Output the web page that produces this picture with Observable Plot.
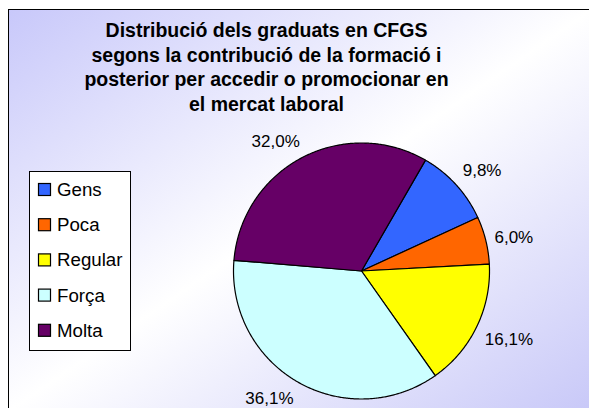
<!DOCTYPE html>
<html><head><meta charset="utf-8">
<script src="https://cdn.jsdelivr.net/npm/d3@7"></script>
<script src="https://cdn.jsdelivr.net/npm/@observablehq/plot@0.6"></script>
<style>html,body{margin:0;padding:0;background:#fff;overflow:hidden;}</style>
</head><body><div id="chart"></div>
<script>
const categories = ["Gens", "Poca", "Regular", "Força", "Molta"];
const values = [9.8, 6.0, 16.1, 36.1, 32.0];
const valueLabels = ["9,8%", "6,0%", "16,1%", "36,1%", "32,0%"];
const colors = ["#3366FF", "#FF6600", "#FFFF00", "#CCFFFF", "#660066"];
const titleLines = [
  "Distribució dels graduats en CFGS",
  "segons la contribució de la formació i",
  "posterior per accedir o promocionar en",
  "el mercat laboral"
];

const W = 589, H = 408;
const FONT = "'Liberation Sans', Arial, Helvetica, sans-serif";
const pie = {cx: 361, cy: 270.5, r: 128, startDeg: 30, labelR: 137, labelSize: 17};
const title = {x: 266, y0: 30.5, step: 24.5, size: 19.5};
const legend = {x1: 29.5, x2: 130.5, y1: 171.5, y2: 350.5, sw1: 38.5, sw2: 50.5, tx: 56.5, row0: 189.5, step: 35.2, size: 18.7};

// slices via d3.pie
const start = pie.startDeg * Math.PI / 180;
const arcs = d3.pie().sort(null).startAngle(start).endAngle(start + 2 * Math.PI)(values);
const pt = (a, rr) => [pie.cx + rr * Math.sin(a), pie.cy - rr * Math.cos(a)];
const slicePts = [];
arcs.forEach((a, i) => {
  slicePts.push({cat: categories[i], x: pie.cx, y: pie.cy});
  const n = Math.max(2, Math.ceil((a.endAngle - a.startAngle) / (Math.PI / 360)));
  for (let k = 0; k <= n; k++) {
    const t = a.startAngle + (a.endAngle - a.startAngle) * k / n;
    const [x, y] = pt(t, pie.r);
    slicePts.push({cat: categories[i], x, y});
  }
});

// labels: box corner facing the pie sits on a circle just outside it
const ctx = document.createElement("canvas").getContext("2d");
ctx.font = `${pie.labelSize}px ${FONT}`;
const clamp = (v, lo, hi) => Math.max(lo, Math.min(hi, v));
const labelData = arcs.map((a, i) => {
  const m = (a.startAngle + a.endAngle) / 2;
  const [ax, ay] = pt(m, pie.labelR);
  const w = ctx.measureText(valueLabels[i]).width, h = pie.labelSize;
  const s = Math.sin(m), c = Math.cos(m);
  return {
    text: valueLabels[i],
    x: ax + (w / 2) * clamp(s / 0.5, -1, 1),
    y: ay - (h / 2) * Math.sign(c) * clamp((Math.abs(c) - 0.25) / 0.15, 0, 1)
  };
});

const titleData = titleLines.map((t, i) => ({t, x: title.x, y: title.y0 + i * title.step}));
const legendData = categories.map((c, i) => ({c, y: legend.row0 + i * legend.step}));

const svg = Plot.plot({
  width: W, height: H,
  margin: 0,
  x: {domain: [0, W], range: [0, W], axis: null},
  y: {domain: [0, H], range: [0, H], axis: null},
  color: {domain: categories, range: colors},
  style: {background: "transparent", fontFamily: FONT},
  marks: [
    Plot.frame({fill: "url(#bgGrad)", stroke: "black", strokeWidth: 1, insetLeft: 8, insetTop: 9, insetRight: -3, insetBottom: -3}),
    Plot.text(titleData, {x: "x", y: "y", text: "t", fontSize: title.size, fontWeight: "bold", fill: "black", textAnchor: "middle", lineAnchor: "middle", fontFamily: FONT}),
    Plot.line(slicePts, {x: "x", y: "y", z: "cat", fill: "cat", stroke: "black", strokeWidth: 1.2, curve: "linear-closed"}),
    Plot.text(labelData, {x: "x", y: "y", text: "text", fontSize: pie.labelSize, fill: "black", textAnchor: "middle", lineAnchor: "middle", fontFamily: FONT}),
    Plot.rect([legend], {x1: "x1", x2: "x2", y1: "y1", y2: "y2", fill: "white", stroke: "black", strokeWidth: 1}),
    Plot.rect(legendData, {x1: () => legend.sw1, x2: () => legend.sw2, y1: d => d.y - 6, y2: d => d.y + 6, fill: "c", stroke: "black", strokeWidth: 1.2}),
    Plot.text(legendData, {x: () => legend.tx, y: "y", text: "c", fontSize: legend.size, fill: "black", textAnchor: "start", lineAnchor: "middle", fontFamily: FONT})
  ]
});

const ns = "http://www.w3.org/2000/svg";
const defs = document.createElementNS(ns, "defs");
const grad = document.createElementNS(ns, "linearGradient");
grad.setAttribute("id", "bgGrad");
grad.setAttribute("x1", "0"); grad.setAttribute("y1", "0");
grad.setAttribute("x2", "1"); grad.setAttribute("y2", "1");
[["0", "#c8c8fa"], ["0.5", "#ffffff"], ["1", "#c8c8f8"]].forEach(([o, c]) => {
  const s = document.createElementNS(ns, "stop");
  s.setAttribute("offset", o); s.setAttribute("stop-color", c);
  grad.appendChild(s);
});
defs.appendChild(grad);
svg.insertBefore(defs, svg.firstChild);
document.getElementById("chart").appendChild(svg);
</script>
</body></html>
